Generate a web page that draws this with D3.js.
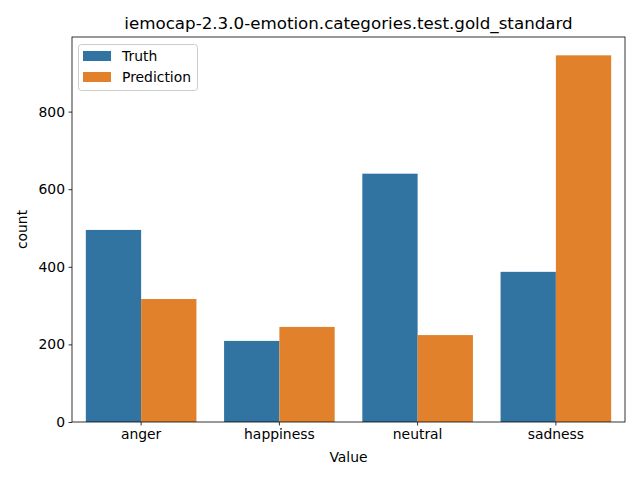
<!DOCTYPE html>
<html><head><meta charset="utf-8">
<script src="https://cdn.jsdelivr.net/npm/d3@7"></script>
<style>body{margin:0;background:#fff}text{font-family:"DejaVu Sans",sans-serif}</style>
</head><body><svg id="c" width="640" height="480"></svg>
<script>
const categories = ["anger","happiness","neutral","sadness"];
const seriesNames = ["Truth","Prediction"];
const truth = [495, 209, 640, 387];
const prediction = [317, 245, 224, 945];
const yTicks = [0,200,400,600,800];
const colors = ["#3274a1","#e1812c"];

const svg = d3.select("#c");
const L=72, R=625, T=37, B=422;
const x = d3.scaleBand().domain(categories).range([L,R]).paddingInner(0).paddingOuter(0);
const y = d3.scaleLinear().domain([0, 945*1.05]).range([B,T]);
const xs = d3.scaleBand().domain(seriesNames).range([0, x.bandwidth()*0.8]);
const data = [truth, prediction];

seriesNames.forEach((s,si)=>{
  svg.append("g").selectAll("rect").data(categories).join("rect")
    .attr("x", (c)=>x(c)+x.bandwidth()*0.1+xs(s))
    .attr("width", xs.bandwidth())
    .attr("y", (c,i)=>y(data[si][i]))
    .attr("height", (c,i)=>B-y(data[si][i]))
    .attr("fill", colors[si]);
});

const xa = svg.append("g").attr("transform",`translate(0,${B})`)
  .call(d3.axisBottom(x).tickSize(3.5).tickPadding(3.5));
const ya = svg.append("g").attr("transform",`translate(${L},0)`)
  .call(d3.axisLeft(y).tickValues(yTicks).tickSize(3.5).tickPadding(3.5));
[xa,ya].forEach(a=>{
  a.selectAll("text").attr("font-size","13.9px").attr("fill","#000").attr("font-family","DejaVu Sans");
  a.selectAll("line").attr("stroke","#000").attr("stroke-width",0.8);
  a.select(".domain").remove();
});
// frame
svg.append("rect").attr("x",L).attr("y",T).attr("width",R-L).attr("height",B-T)
  .attr("fill","none").attr("stroke","#000").attr("stroke-width",0.8);

svg.append("text").attr("x",(L+R)/2).attr("y",29).attr("text-anchor","middle")
  .attr("font-size","16.7px").text("iemocap-2.3.0-emotion.categories.test.gold_standard");
svg.append("text").attr("x",(L+R)/2).attr("y",462).attr("text-anchor","middle")
  .attr("font-size","13.9px").text("Value");
svg.append("text").attr("transform",`translate(27,${(T+B)/2}) rotate(-90)`).attr("text-anchor","middle")
  .attr("font-size","13.9px").text("count");

// legend
const lg = svg.append("g");
lg.append("rect").attr("x",78.5).attr("y",44.5).attr("width",119).attr("height",46).attr("rx",3)
  .attr("fill","#fff").attr("fill-opacity",0.8).attr("stroke","#ccc").attr("stroke-width",1);
seriesNames.forEach((s,i)=>{
  lg.append("rect").attr("x",83).attr("y",51+i*21).attr("width",28).attr("height",10).attr("fill",colors[i]);
  lg.append("text").attr("x",122).attr("y",61+i*21).attr("font-size","13.9px").text(s);
});
</script></body></html>
